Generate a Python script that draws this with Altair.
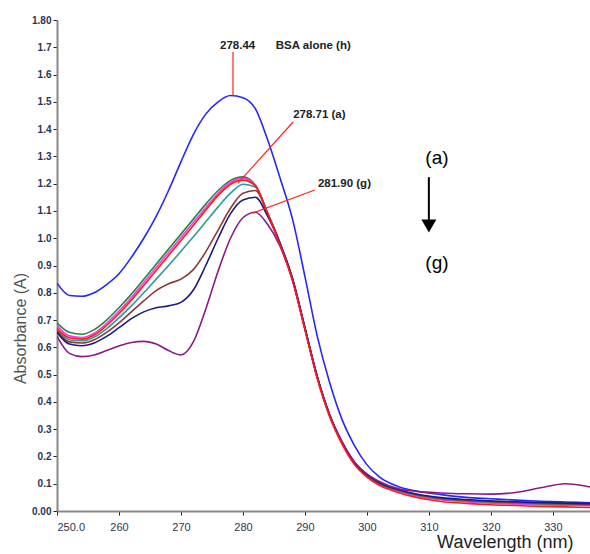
import altair as alt
import pandas as pd

wavelength = [250, 252, 254, 256, 258, 260, 262, 264, 266, 268, 270, 272, 274, 276, 278, 280, 282, 284,
              286, 288, 290, 292, 294, 296, 298, 300, 302, 305, 308, 312, 316, 320, 324, 328, 332, 336]

bsa_h = [0.835, 0.790, 0.787, 0.800, 0.830, 0.870, 0.930, 1.000, 1.080, 1.175, 1.280, 1.380, 1.455, 1.500, 1.523, 1.515, 1.475, 1.360,
         1.220, 1.070, 0.860, 0.640, 0.470, 0.335, 0.240, 0.170, 0.125, 0.090, 0.073, 0.060, 0.050, 0.045, 0.040, 0.036, 0.033, 0.030]
green = [0.690, 0.655, 0.648, 0.665, 0.700, 0.745, 0.795, 0.850, 0.905, 0.960, 1.015, 1.070, 1.125, 1.175, 1.212, 1.225, 1.195, 1.090,
         0.980, 0.850, 0.670, 0.490, 0.350, 0.250, 0.175, 0.130, 0.100, 0.075, 0.058, 0.043, 0.036, 0.031, 0.028, 0.025, 0.023, 0.021]
magenta = [0.680, 0.642, 0.636, 0.652, 0.688, 0.733, 0.783, 0.838, 0.893, 0.948, 1.003, 1.058, 1.113, 1.165, 1.205, 1.220, 1.195, 1.090,
           0.978, 0.848, 0.668, 0.488, 0.348, 0.248, 0.173, 0.128, 0.098, 0.073, 0.056, 0.041, 0.034, 0.029, 0.026, 0.023, 0.021, 0.019]
red = [0.670, 0.635, 0.630, 0.645, 0.680, 0.724, 0.773, 0.827, 0.882, 0.937, 0.992, 1.047, 1.103, 1.157, 1.198, 1.213, 1.192, 1.090,
       0.975, 0.845, 0.665, 0.485, 0.345, 0.245, 0.170, 0.124, 0.094, 0.068, 0.050, 0.035, 0.028, 0.023, 0.020, 0.017, 0.015, 0.013]
teal = [0.665, 0.628, 0.624, 0.638, 0.668, 0.708, 0.752, 0.800, 0.850, 0.900, 0.952, 1.005, 1.060, 1.115, 1.165, 1.198, 1.188, 1.090,
        0.980, 0.850, 0.670, 0.490, 0.350, 0.250, 0.175, 0.130, 0.100, 0.075, 0.058, 0.044, 0.037, 0.032, 0.029, 0.026, 0.024, 0.022]
brown = [0.660, 0.620, 0.616, 0.628, 0.655, 0.690, 0.730, 0.770, 0.808, 0.833, 0.850, 0.885, 0.950, 1.030, 1.110, 1.165, 1.175, 1.090,
         0.982, 0.852, 0.672, 0.492, 0.352, 0.252, 0.177, 0.132, 0.102, 0.077, 0.060, 0.046, 0.039, 0.034, 0.031, 0.028, 0.026, 0.024]
navy = [0.655, 0.612, 0.606, 0.616, 0.640, 0.672, 0.705, 0.730, 0.745, 0.752, 0.765, 0.810, 0.900, 1.000, 1.090, 1.140, 1.150, 1.080,
        0.980, 0.852, 0.672, 0.492, 0.352, 0.252, 0.178, 0.133, 0.104, 0.079, 0.062, 0.049, 0.042, 0.037, 0.034, 0.031, 0.029, 0.027]
purple = [0.640, 0.578, 0.566, 0.572, 0.588, 0.605, 0.618, 0.622, 0.612, 0.588, 0.572, 0.620, 0.740, 0.880, 1.000, 1.075, 1.095, 1.050,
          0.970, 0.845, 0.668, 0.490, 0.352, 0.254, 0.180, 0.136, 0.108, 0.082, 0.072, 0.066, 0.063, 0.062, 0.068, 0.085, 0.100, 0.088]

series_names = ["h", "a1", "a2", "a3", "a4", "a5", "a6", "a7"]
series_values = [bsa_h, green, magenta, teal, brown, navy, purple, red]
series_colors = ["#2626ff", "#1f8a3c", "#ff33ee", "#2b9c9c", "#8b3a3a", "#1c1c7a", "#8a1a8a", "#ff1a1a"]

rows = []
for order, (name, vals) in enumerate(zip(series_names, series_values)):
    for w, v in zip(wavelength, vals):
        rows.append({"series": name, "wl": w, "A": v, "order": order})
df = pd.DataFrame(rows)

x_ticks = [250, 260, 270, 280, 290, 300, 310, 320, 330]
y_ticks = [0.0, 0.1, 0.2, 0.3, 0.4, 0.5, 0.6, 0.7, 0.8, 0.9, 1.0, 1.1, 1.2, 1.3, 1.4, 1.5, 1.6, 1.7, 1.8]

xscale = alt.Scale(domain=[250, 336], nice=False, zero=False)
yscale = alt.Scale(domain=[0, 1.8], nice=False)

lab_color = "#2b3550"

x_axis = alt.Axis(
    values=x_ticks, grid=False, title="Wavelength (nm)", labelOverlap=False,
    labelExpr="datum.value == 250 ? '250.0' : format(datum.value, 'd')",
    labelFont="Liberation Sans", labelFontSize=11, labelColor=lab_color, labelPadding=6,
    tickSize=4, tickColor="#222", domainColor="#888", domainWidth=2,
    titleFont="Liberation Sans", titleFontSize=18, titleFontWeight="normal", titleColor="#222",
    titleAnchor="end", titleAlign="right", titleX=516, titleY=36, titleBaseline="alphabetic")
y_axis = alt.Axis(
    values=y_ticks, grid=False, title="Absorbance (A)", labelOverlap=False,
    labelExpr="datum.value == 0 ? '0.00' : (datum.value > 1.79 ? '1.80' : format(datum.value, '.1f'))",
    labelFont="Liberation Sans", labelFontSize=10, labelFontWeight="bold", labelColor=lab_color, labelPadding=2,
    tickSize=4, tickColor="#222", domainColor="#888", domainWidth=2,
    titleFont="Liberation Sans", titleFontSize=16, titleFontWeight="normal", titleColor="#555",
    titleAngle=-90, titleX=-37, titleY=308, titleAlign="center", titleBaseline="middle")


def xx(field="wl"):
    return alt.X(f"{field}:Q", scale=xscale, axis=x_axis)


def yy(field="A"):
    return alt.Y(f"{field}:Q", scale=yscale, axis=y_axis)


lines = alt.Chart(df).mark_line(strokeWidth=1.6, interpolate="monotone", clip=True).encode(
    x=xx(), y=yy(),
    color=alt.Color("series:N", scale=alt.Scale(domain=series_names, range=series_colors), legend=None),
    order=alt.Order("order:Q"),
    detail="series:N",
)

# annotations (data coordinates)
ann_text = pd.DataFrame({
    "wl": [276.3, 285.3, 288.1, 292.1],
    "A": [1.705, 1.705, 1.452, 1.199],
    "label": ["278.44", "BSA alone (h)", "278.71  (a)", "281.90  (g)"],
})
texts = alt.Chart(ann_text).mark_text(align="left", baseline="middle", font="Liberation Sans",
                                      fontSize=11.5, fontWeight="bold", color="#222").encode(
    x=xx(), y=yy(), text="label:N")

ann_lines = pd.DataFrame({
    "wl": [278.4, 288.1, 291.6],
    "A": [1.683, 1.426, 1.177],
    "wl2": [278.4, 279.2, 281.6],
    "A2": [1.521, 1.202, 1.092],
})
leaders = alt.Chart(ann_lines).mark_rule(color="#ff2020", strokeWidth=1.2).encode(
    x=xx(), y=yy(), x2="wl2:Q", y2="A2:Q")

letters = pd.DataFrame({"wl": [311.3, 311.3], "A": [1.294, 0.909], "label": ["(a)", "(g)"]})
letter_marks = alt.Chart(letters).mark_text(font="Liberation Sans", fontSize=19, color="#000",
                                            align="center", baseline="middle").encode(
    x=xx(), y=yy(), text="label:N")

arrow_shaft = pd.DataFrame({"wl": [310.0], "A": [1.224], "A2": [1.06]})
shaft = alt.Chart(arrow_shaft).mark_rule(color="#000", strokeWidth=2).encode(
    x=xx(), y=yy(), y2="A2:Q")

arrow_head = pd.DataFrame({"wl": [310.0], "A": [1.045]})
head = alt.Chart(arrow_head).mark_point(shape="triangle-down", size=225, filled=True, color="#000", opacity=1).encode(
    x=xx(), y=yy())

chart = alt.layer(lines, leaders, texts, letter_marks, shaft, head).properties(
    width=533, height=491,
    autosize=alt.AutoSizeParams(type="none"),
    padding={"left": 57, "top": 20, "right": 0, "bottom": 43},
    background="white",
).configure_view(stroke=None)

chart.save("out.html", embed_options={"renderer": "svg", "actions": False})
